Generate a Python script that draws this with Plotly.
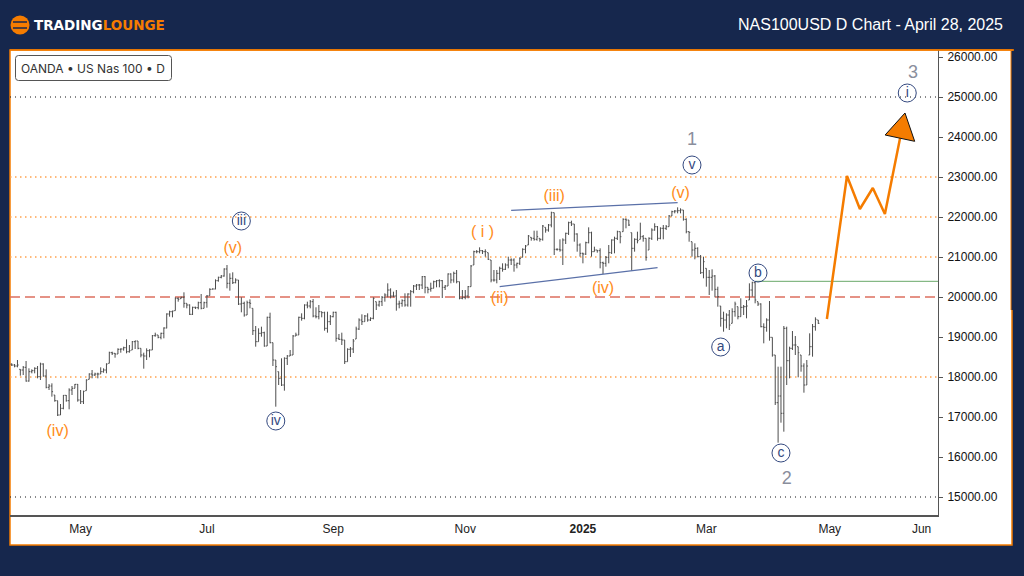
import plotly.graph_objects as go
import pandas as pd

# daily bars
bar_open = [18320, 18300, 18275, 18192, 18175, 18242, 17900, 18133, 18158, 18217,
            18008, 18325, 18025, 17742, 17775, 17550, 17408, 17050, 17217, 17542,
            17408, 17675, 17717, 17817, 17425, 17383, 17658, 17942, 18075, 18050,
            18075, 18075, 18133, 18175, 18342, 18608, 18592, 18575, 18692, 18700,
            18733, 18633, 18675, 18883, 18900, 18717, 18550, 18525, 18658, 18675,
            19033, 19050, 18992, 19092, 19225, 19575, 19633, 19658, 19967, 19958,
            19992, 19842, 19800, 19567, 19742, 19733, 19858, 19717, 19858, 20033,
            20192, 20200, 20408, 20492, 20525, 20700, 20342, 20467, 20358, 20425,
            19825, 19842, 19550, 19858, 19717, 19158, 18883, 19092, 19108, 18775,
            19492, 18858, 18425, 18133, 17967, 17800, 18467, 18525, 18550, 19025,
            19050, 19492, 19467, 19800, 19775, 19883, 19525, 19508, 19633, 19608,
            19217, 19383, 19508, 19617, 18967, 18942, 18925, 18383, 18692, 18700,
            18950, 19200, 19425, 19383, 19525, 19425, 19467, 19883, 19800, 19883,
            19992, 20050, 20175, 20025, 20025, 19825, 19842, 19908, 19800, 20075,
            20133, 20275, 20300, 20300, 20508, 20242, 20192, 20217, 20383, 20408,
            20408, 20242, 20275, 20575, 20425, 20592, 20383, 19967, 19992, 20025,
            20258, 20800, 21133, 21133, 21158, 21133, 21108, 20925, 20425, 20425,
            20592, 20717, 20692, 20800, 20925, 20925, 20800, 20842, 20992, 21192,
            21300, 21492, 21467, 21442, 21467, 21442, 21742, 21675, 21800, 22108,
            21192, 21192, 21175, 21425, 21592, 21858, 21825, 21575, 21300, 21092,
            21075, 21358, 21608, 21133, 21175, 21158, 20858, 20842, 20992, 21108,
            21425, 21467, 21633, 21633, 21942, 21925, 21608, 21217, 21442, 21442,
            21508, 21467, 21175, 21467, 21675, 21758, 21467, 21717, 21717, 21758,
            22025, 22133, 22150, 22158, 22175, 21942, 21633, 21383, 21175, 21217,
            21008, 20608, 20717, 20492, 20492, 20525, 20192, 19775, 19467, 19425,
            19550, 19342, 19633, 19758, 19508, 19742, 19758, 19925, 20175, 20358,
            19883, 19825, 19258, 19242, 19425, 18992, 18550, 17358, 17525, 17092,
            19217, 18408, 18717, 18800, 18758, 18550, 18275, 17800, 18550, 18758,
            19258, 19425]
bar_high = [18342, 18325, 18425, 18192, 18275, 18400, 18217, 18192, 18242, 18275,
            18358, 18342, 18192, 17825, 17842, 17550, 17408, 17325, 17550, 17550,
            17717, 17775, 17825, 17825, 17675, 17658, 17942, 18092, 18175, 18108,
            18108, 18242, 18217, 18342, 18633, 18633, 18592, 18717, 18717, 18758,
            18942, 18800, 18900, 18908, 18900, 18717, 18608, 18717, 18692, 19050,
            19108, 19050, 19108, 19242, 19592, 19658, 19658, 19992, 19992, 20008,
            20117, 19842, 19817, 19758, 19758, 19883, 20075, 19883, 20050, 20217,
            20217, 20442, 20508, 20550, 20717, 20800, 20592, 20617, 20467, 20425,
            19992, 19883, 19908, 19942, 19717, 19275, 19217, 19258, 19133, 19508,
            19608, 18858, 18425, 18133, 18467, 18492, 18550, 18675, 19050, 19108,
            19508, 19592, 19817, 19883, 19925, 19950, 19742, 19800, 19633, 19633,
            19633, 19550, 19633, 19633, 19075, 19108, 18925, 18717, 18750, 18950,
            19258, 19467, 19567, 19550, 19592, 19492, 19992, 19883, 19908, 20025,
            20092, 20342, 20217, 20133, 20175, 19908, 19942, 20092, 20092, 20175,
            20300, 20325, 20325, 20525, 20525, 20242, 20358, 20408, 20425, 20442,
            20425, 20300, 20592, 20592, 20633, 20675, 20383, 20175, 20175, 20275,
            20800, 21158, 21175, 21242, 21175, 21192, 21108, 20925, 20675, 20675,
            20758, 20842, 20842, 21008, 20967, 20967, 20858, 20992, 21217, 21300,
            21550, 21492, 21658, 21658, 21467, 21800, 21742, 21825, 22133, 22108,
            21217, 21442, 21467, 21608, 21883, 21908, 21825, 21592, 21342, 21108,
            21383, 21742, 21633, 21258, 21175, 21217, 20883, 21025, 21300, 21442,
            21508, 21658, 21633, 21967, 21967, 21925, 21608, 21467, 21633, 21858,
            21550, 21467, 21492, 21717, 21842, 21775, 21742, 21800, 21800, 22050,
            22158, 22175, 22242, 22217, 22175, 21967, 21633, 21383, 21342, 21242,
            21050, 21008, 20717, 20675, 20692, 20550, 20258, 19775, 19633, 19592,
            19675, 19717, 19883, 19758, 19967, 19800, 19925, 20342, 20383, 20383,
            19883, 19842, 19342, 19467, 19900, 18992, 18550, 18258, 18258, 19275,
            19258, 18758, 19150, 19025, 18758, 18550, 18342, 18425, 19092, 19325,
            19492, 19425]
bar_low = [18275, 18242, 18242, 18033, 18050, 17883, 17883, 18092, 18092, 17967,
           17925, 18008, 17717, 17675, 17508, 17383, 17025, 17050, 17192, 17383,
           17192, 17550, 17717, 17383, 17325, 17325, 17658, 17942, 17967, 18025,
           17967, 18075, 18108, 18092, 18342, 18550, 18483, 18575, 18608, 18658,
           18592, 18608, 18675, 18700, 18692, 18492, 18208, 18425, 18492, 18675,
           19008, 18967, 18942, 18967, 19217, 19508, 19492, 19658, 19883, 19958,
           19733, 19717, 19550, 19550, 19700, 19692, 19692, 19717, 19733, 20033,
           20192, 20192, 20383, 20467, 20508, 20217, 20158, 20325, 20342, 19800,
           19617, 19508, 19550, 19717, 19050, 18758, 18883, 19008, 18758, 18775,
           18842, 18275, 17258, 17800, 17775, 17658, 18300, 18525, 18550, 19025,
           19050, 19408, 19442, 19717, 19717, 19492, 19467, 19442, 19492, 19158,
           19108, 19300, 19492, 18883, 18925, 18800, 18325, 18383, 18500, 18600,
           18950, 19175, 19300, 19383, 19383, 19400, 19442, 19675, 19758, 19775,
           19883, 19992, 19967, 19992, 19658, 19717, 19758, 19758, 19758, 19758,
           20092, 20175, 20175, 20200, 20092, 20092, 20133, 20217, 20242, 20242,
           19975, 20175, 20275, 20342, 20358, 20342, 19942, 19942, 19942, 19967,
           20258, 20800, 21092, 21092, 21075, 21008, 20925, 20367, 20383, 20342,
           20425, 20633, 20675, 20717, 20800, 20633, 20717, 20800, 20992, 21092,
           21300, 21408, 21408, 21408, 21383, 21408, 21608, 21633, 21742, 21050,
           21158, 21133, 20800, 21325, 21550, 21775, 21383, 21133, 21008, 20842,
           21050, 21342, 21008, 21133, 21108, 20717, 20575, 20758, 20842, 21075,
           21092, 21425, 21342, 21633, 21717, 21775, 20658, 21133, 21342, 21442,
           21383, 20908, 21175, 21425, 21658, 21408, 21442, 21442, 21675, 21758,
           22025, 22092, 22092, 22092, 21908, 21592, 21383, 21008, 20942, 20992,
           20575, 20467, 20258, 20050, 20158, 19992, 19758, 19258, 19133, 19217,
           19175, 19342, 19508, 19442, 19508, 19550, 19467, 19925, 20008, 19842,
           19775, 19242, 18842, 19133, 18908, 18508, 17300, 16358, 16858, 16633,
           17800, 17967, 18675, 18550, 17992, 18133, 17608, 17800, 18550, 18508,
           19158, 19325]
bar_close = [18300, 18275, 18300, 18175, 18242, 17900, 18133, 18158, 18217, 18008,
             18325, 18025, 17742, 17775, 17633, 17408, 17050, 17217, 17542, 17408,
             17675, 17717, 17817, 17425, 17383, 17642, 17925, 18075, 18050, 18075,
             18075, 18133, 18175, 18325, 18608, 18592, 18575, 18692, 18700, 18733,
             18633, 18658, 18883, 18900, 18717, 18550, 18525, 18658, 18675, 19033,
             19050, 18992, 19092, 19225, 19575, 19633, 19650, 19967, 19942, 19992,
             19842, 19800, 19567, 19742, 19733, 19858, 19717, 19858, 20025, 20192,
             20200, 20408, 20492, 20525, 20700, 20342, 20467, 20358, 20425, 19825,
             19842, 19550, 19858, 19842, 19158, 18883, 19092, 19108, 18775, 19492,
             18858, 18425, 18258, 17967, 17800, 18467, 18525, 18550, 19025, 19050,
             19492, 19467, 19800, 19775, 19883, 19525, 19508, 19633, 19608, 19217,
             19383, 19508, 19617, 18967, 18942, 18925, 18383, 18692, 18700, 18900,
             19200, 19425, 19383, 19525, 19425, 19467, 19967, 19800, 19883, 19992,
             20050, 20175, 20025, 20025, 19825, 19842, 19908, 19800, 20075, 20133,
             20275, 20300, 20300, 20508, 20242, 20192, 20217, 20383, 20408, 20408,
             20242, 20275, 20575, 20425, 20592, 20383, 19967, 19992, 20025, 20258,
             20775, 21133, 21133, 21158, 21133, 21133, 20942, 20425, 20425, 20592,
             20717, 20692, 20800, 20925, 20925, 20800, 20842, 20967, 21192, 21275,
             21525, 21467, 21442, 21508, 21442, 21775, 21675, 21800, 22108, 21192,
             21192, 21175, 21425, 21592, 21858, 21825, 21575, 21300, 21092, 21075,
             21358, 21608, 21133, 21175, 21158, 20858, 20842, 20992, 21108, 21425,
             21467, 21633, 21508, 21942, 21925, 21800, 21217, 21442, 21408, 21508,
             21467, 20992, 21467, 21675, 21758, 21467, 21717, 21717, 21758, 22025,
             22133, 22150, 22158, 22175, 21942, 21633, 21617, 21175, 21217, 21008,
             20608, 20883, 20492, 20492, 20525, 20192, 20008, 19467, 19425, 19550,
             19300, 19633, 19825, 19508, 19742, 19758, 19775, 20175, 20358, 19925,
             19825, 19258, 19242, 19425, 18992, 18550, 17358, 17525, 17092, 19217,
             18408, 18717, 18800, 18800, 18608, 18275, 17800, 18275, 18758, 19258,
             19442, 19342]
first_bar_day = "2024-03-28"

y_ticks = [15000, 16000, 17000, 18000, 19000, 20000, 21000, 22000, 23000, 24000, 25000, 26000]
month_days = ["2024-05-01", "2024-07-02", "2024-09-02", "2024-11-05", "2025-01-01", "2025-03-03", "2025-05-01", "2025-06-02"]
month_names = ["May", "Jul", "Sep", "Nov", "<b>2025</b>", "Mar", "May", "Jun"]

black_levels = [25000, 15000]
orange_levels = [23000, 22000, 21000, 18000]
pivot_level = 20000
broken_level = 20392

# projected path and its arrow head
path_days = ["2025-04-30", "2025-05-07", "2025-05-11 12:00", "2025-05-16", "2025-05-20 05:00", "2025-05-25 12:00"]
path_prices = [19450, 23025, 22200, 22725, 22075, 23975]
head_days = ["2025-05-27 05:00", "2025-05-20 07:00", "2025-05-30 14:00", "2025-05-27 05:00"]
head_prices = [24600, 24050, 23892, 24600]

# wedge lines, by bar number
upper_bars = [174, 232]
upper_prices = [22168, 22358]
lower_bars = [170, 225]
lower_prices = [20258, 20733]

orange_bars = [16, 77, 164, 170, 189, 206, 233]
orange_prices = [16625, 21200, 21600, 19950, 22500, 20200, 22575]
orange_text = ["(iv)", "(v)", "( i )", "(ii)", "(iii)", "(iv)", "(v)"]
circle_bars = [80, 92, 247, 260, 268, 237]
circle_prices = [21900, 16900, 18750, 20600, 16100, 23300]
circle_text = ["iii", "iv", "a", "b", "c", "v"]
grey_bars = [237, 270]
grey_prices = [23925, 15450]
grey_text = ["1", "2"]

NAVY = "#16274d"
ORANGE = "#f57c00"
BLUE = "#34497f"
GREY = "#8a8e9c"
FONT = "Liberation Sans"

bar_days = pd.bdate_range(first_bar_day, periods=len(bar_close))
all_days = pd.date_range(first_bar_day, "2025-04-30")
weekends = [d.strftime("%Y-%m-%d") for d in all_days if d.dayofweek >= 5]


def day_of(bars):
    return [bar_days[b] for b in bars]


def px_x(x):
    return (x - 10) / 928


def px_y(y):
    return (515 - y) / 465


def box(x0, y0, x1, y1, **kw):
    return dict(type="rect", xref="paper", yref="paper", x0=px_x(x0), x1=px_x(x1), y0=px_y(y1), y1=px_y(y0), **kw)


def line(x0, y0, x1, y1, color, width):
    return dict(type="line", xref="paper", yref="paper", x0=px_x(x0), x1=px_x(x1), y0=px_y(y0), y1=px_y(y1),
                line=dict(color=color, width=width))


def rounded_box(x0, y0, x1, y1, r):
    a, b, c, d = px_x(x0), px_x(x1), px_y(y0), px_y(y1)
    rx, ry = r / 928, r / 465
    return (f"M {a + rx} {c} L {b - rx} {c} Q {b} {c} {b} {c - ry} L {b} {d + ry} Q {b} {d} {b - rx} {d} "
            f"L {a + rx} {d} Q {a} {d} {a} {d + ry} L {a} {c - ry} Q {a} {c} {a + rx} {c} Z")


fig = go.Figure()

shapes = [
    box(10, 50, 1012, 545, fillcolor="white", line=dict(color=ORANGE, width=1.5), layer="below"),
    box(1011, 51, 1014, 310, fillcolor=NAVY, line=dict(width=0), layer="below"),
    line(1011, 50, 1011, 310, ORANGE, 1),
    line(10, 50, 1014, 50, ORANGE, 1.5),
    dict(type="path", xref="paper", yref="paper", path=rounded_box(15.5, 55.5, 171.5, 80.5, 3),
         line=dict(color="#555555", width=1), fillcolor="white"),
    # logo
    dict(type="circle", xref="paper", yref="paper", x0=px_x(10.5), x1=px_x(29.5), y0=px_y(34.5), y1=px_y(15.5),
         fillcolor=ORANGE, line=dict(width=0)),
    line(13, 22, 27, 22, NAVY, 1.5),
    line(13, 28, 27, 28, NAVY, 1.5),
]

annotations = [
    dict(xref="paper", yref="paper", x=px_x(32), y=px_y(25), xanchor="left", yanchor="middle", showarrow=False,
         text="<b>TRADING<span style='color:%s'>LOUNGE</span></b>" % ORANGE,
         font=dict(family="DejaVu Sans", size=13.5, color="white")),
    dict(xref="paper", yref="paper", x=px_x(1005), y=px_y(24), xanchor="right", yanchor="middle", showarrow=False,
         text="NAS100USD D Chart - April 28, 2025", font=dict(family=FONT, size=16, color="white")),
    dict(xref="paper", yref="paper", x=px_x(19), y=px_y(68), xanchor="left", yanchor="middle", showarrow=False,
         text="OANDA \u2022 US Nas 100 \u2022 D", font=dict(family="Inter", size=12, color="#333333")),
]

fig.update_layout(
    width=1024, height=576, margin=dict(l=10, r=86, t=50, b=61),
    paper_bgcolor=NAVY, plot_bgcolor="rgba(0,0,0,0)", showlegend=False, hovermode=False,
    shapes=shapes, annotations=annotations,
    xaxis=dict(range=["2024-03-27 09:36", "2025-06-07 17:00"], rangeslider_visible=False,
               rangebreaks=[dict(values=weekends)], tickmode="array", tickvals=month_days, ticktext=month_names,
               showgrid=False, zeroline=False, showline=True, linecolor="#555555", linewidth=1.5, ticks="",
               ticklabelstandoff=2, tickfont=dict(family=FONT, size=12, color="#222222")),
    yaxis=dict(range=[14550, 26175], side="right", tickmode="array", tickvals=y_ticks, tickformat=".2f",
               showgrid=False, zeroline=False, showline=True, linecolor="#555555", linewidth=1, ticks="outside",
               ticklen=4, tickcolor="#555555", ticklabelstandoff=2, tickfont=dict(family=FONT, size=12, color="#111111")),
)

for lvl in black_levels:
    fig.add_hline(y=lvl, line=dict(color="#111111", width=1, dash="1px,4px"), layer="below")
for lvl in orange_levels:
    fig.add_hline(y=lvl, line=dict(color="#ffa24d", width=1.5, dash="1.5px,3.5px"), layer="below")
fig.add_hline(y=pivot_level, line=dict(color="#dd6f5f", width=1.3, dash="10px,5px"), layer="below")

fig.add_trace(go.Scatter(x=[bar_days[259], "2025-06-07 17:00"], y=[broken_level, broken_level], mode="lines",
                         line=dict(color="#6aa86a", width=1)))
fig.add_trace(go.Scatter(x=day_of(upper_bars), y=upper_prices, mode="lines", line=dict(color="#5a70a8", width=1.3)))
fig.add_trace(go.Scatter(x=day_of(lower_bars), y=lower_prices, mode="lines", line=dict(color="#5a70a8", width=1.3)))

fig.add_trace(go.Ohlc(x=bar_days, open=bar_open, high=bar_high, low=bar_low, close=bar_close, tickwidth=0.4,
                      increasing_line=dict(color="#4d4d4d", width=1), decreasing_line=dict(color="#4d4d4d", width=1)))

fig.add_trace(go.Scatter(x=path_days, y=path_prices, mode="lines", line=dict(color=ORANGE, width=2.5)))
fig.add_trace(go.Scatter(x=head_days, y=head_prices, mode="lines", fill="toself", fillcolor=ORANGE,
                         line=dict(color="#111111", width=1)))

fig.add_trace(go.Scatter(x=day_of(orange_bars), y=orange_prices, mode="text", text=orange_text,
                         textfont=dict(family=FONT, size=16, color="#ff8c1a")))
fig.add_trace(go.Scatter(x=day_of(circle_bars) + ["2025-05-28"], y=circle_prices + [25100], mode="markers+text",
                         text=circle_text + ["i"], textposition="middle center",
                         marker=dict(size=18, color="rgba(255,255,255,0)", line=dict(color=BLUE, width=1)),
                         textfont=dict(family=FONT, size=14, color=BLUE)))
fig.add_trace(go.Scatter(x=day_of(grey_bars) + ["2025-05-30"], y=grey_prices + [25600], mode="text",
                         text=grey_text + ["3"], textfont=dict(family=FONT, size=18, color=GREY)))

fig.write_html("out.html", config={"displayModeBar": False},
               post_script="document.body.style.margin='0';document.body.style.overflow='hidden';")
